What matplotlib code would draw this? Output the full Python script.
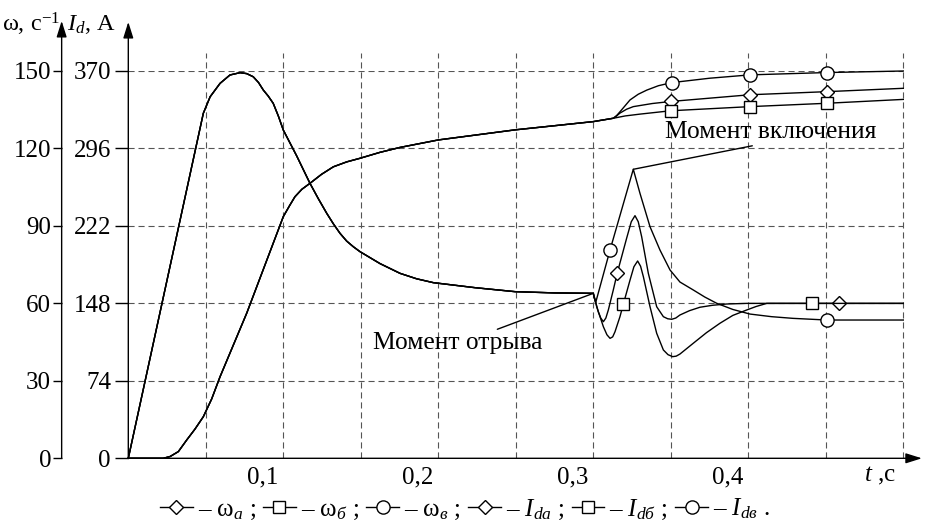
import numpy as np
import matplotlib.pyplot as plt
from matplotlib.transforms import ScaledTranslation

plt.rcParams['font.family'] = ['Liberation Serif', 'DejaVu Serif']
plt.rcParams['mathtext.fontset'] = 'custom'
plt.rcParams['mathtext.rm'] = 'Liberation Serif'
plt.rcParams['mathtext.it'] = 'Liberation Serif:italic'
plt.rcParams['mathtext.bf'] = 'Liberation Serif:bold'

# скорость, общий участок до разделения кривых
t_w = [0, 0.0226, 0.0270, 0.0323, 0.0377, 0.0430, 0.0484, 0.0538, 0.0592, 0.0764,
       0.1, 0.1040, 0.1075, 0.1120, 0.1172, 0.1247, 0.1323, 0.1409, 0.1495, 0.1624,
       0.1753, 0.2, 0.2495, 0.3, 0.3129]
w = [0, 0, 0.7, 2.6, 7.1, 11.3, 16.1, 23.0, 31.6, 56.2,
     93.6, 97.8, 101.3, 104.2, 106.5, 110.0, 112.9, 114.8, 116.2, 118.5,
     120.4, 123.3, 127.2, 130.4, 131.7]

# скорость после включения
t_wa = [0.3150, 0.3172, 0.3215, 0.3258, 0.3380, 0.3499, 0.4011, 0.4506, 0.5]
w_a = [132.6, 133.7, 135.2, 136.2, 137.4, 138.2, 140.8, 142.0, 143.3]
t_wb = [0.3206, 0.3301, 0.3499, 0.4011, 0.4506, 0.5]
w_b = [132.6, 133.3, 134.6, 136.2, 137.5, 139.0]
t_wv = [0.3150, 0.3172, 0.3237, 0.3290, 0.3345, 0.3420, 0.3506, 0.3750, 0.4011, 0.4506, 0.5]
w_v = [132.7, 134.2, 138.8, 141.0, 142.6, 144.3, 145.5, 147.2, 148.5, 149.4, 150.0]

# ток, общий участок до отрыва
t_i = [0, 0.0484, 0.0528, 0.0592, 0.0656, 0.0721, 0.0764, 0.0806, 0.0840, 0.0871,
       0.0903, 0.0935, 0.0968, 0.1, 0.1086, 0.1172, 0.1226, 0.1280, 0.1323, 0.1366,
       0.1409, 0.1452, 0.1495, 0.1624, 0.1753, 0.1860, 0.1968, 0.2237, 0.2495, 0.2750,
       0.3]
i_d = [0, 329.6, 345.4, 358.2, 366.2, 368.4, 367.5, 364.5, 359.0, 351.8,
       346.0, 339.1, 327.0, 313.6, 289.0, 262.7, 248.0, 234.1, 224.0, 214.9,
       207.5, 202.1, 197.4, 186.0, 176.7, 171.5, 167.8, 163.0, 159.2, 158.0,
       157.6]

# ток после отрыва
t_ia = [0.3032, 0.3048, 0.3065, 0.3081, 0.3097, 0.3129, 0.3155, 0.3215, 0.3245,
        0.3269, 0.3290, 0.3312, 0.3355, 0.3409, 0.3452, 0.3480, 0.3506, 0.3532,
        0.3559, 0.3620, 0.3688, 0.3770, 0.3860, 0.3990, 0.4587, 0.5]
i_a = [140.0, 134.0, 130.5, 134.0, 141.7, 160.8, 177.3, 210.2, 226.0,
       231.8, 226.0, 211.7, 176.7, 144.8, 135.3, 133.3, 132.8, 134.0,
       136.9, 141.0, 144.3, 146.2, 147.4, 148.0, 148.0, 148.0]
t_ib = [0.3022, 0.3065, 0.3088, 0.3108, 0.3125, 0.3140, 0.3172, 0.3194, 0.3237,
        0.3262, 0.3286, 0.3305, 0.3323, 0.3366, 0.3409, 0.3452, 0.3482, 0.3512,
        0.3535, 0.3559, 0.3645, 0.3730, 0.3817, 0.3900, 0.3990, 0.4050, 0.4119,
        0.4409, 0.5]
i_b = [144.8, 125.7, 118.0, 114.6, 116.0, 120.9, 135.3, 147.4, 170.3,
       183.0, 188.5, 183.5, 173.5, 144.8, 119.4, 103.5, 99.0, 97.1,
       97.6, 99.6, 109.9, 120.0, 129.0, 136.5, 141.7, 145.0, 148.0,
       148.0, 148.0]
t_iv = [0.3015, 0.3108, 0.3258, 0.3301, 0.3366, 0.3430, 0.3495, 0.3559, 0.3645,
        0.3720, 0.3796, 0.3900, 0.4011, 0.4150, 0.4288, 0.4506, 0.5]
i_v = [148.6, 199.0, 276.1, 253.2, 221.2, 199.0, 179.9, 168.4, 160.8,
       154.0, 148.1, 142.2, 137.8, 135.3, 133.7, 132.1, 132.1]

# где стоят маркеры
mark_w = [0.35, 0.401, 0.4506]
mark_ia = [0.3155, 0.4587]
mark_ib = [0.3194, 0.4409]
mark_iv = [0.3108, 0.4506]

w_ticks = [0, 30, 60, 90, 120, 150]
i_ticks = [0, 74, 148, 222, 296, 370]
t_ticks = [0.1, 0.2, 0.3, 0.4]
t_labels = ['0,1', '0,2', '0,3', '0,4']

FS = 18


def series(t0, y0, t1, y1):
    return np.array(t0 + t1), np.array(y0 + y1)


def marks(tt, times):
    return [int(np.argmin(np.abs(tt - m))) for m in times]


fig = plt.figure(figsize=(9.25, 5.27), dpi=100)
ax = fig.add_axes([128.3 / 925, 68.7 / 527, 775 / 925, 387.3 / 527])
ax.set_xlim(0, 0.5)
ax.set_ylim(0, 150)
axi = ax.twinx()
axi.set_ylim(0, 370)
for a in (ax, axi):
    for s in a.spines.values():
        s.set_visible(False)

# сетка
grid = dict(colors='#555555', linewidth=0.8, linestyles=(0, (5.5, 3.5)))
ax.hlines(w_ticks[1:], 0, 0.5, **grid)
ax.vlines(np.arange(1, 11) * 0.05, 0, 157, clip_on=False, **grid)

# оси со стрелками
arrow = dict(arrowstyle='-|>,head_length=0.7,head_width=0.22', mutation_scale=14,
             color='black', lw=1.0, shrinkA=0, shrinkB=0)
ax.annotate('', xy=(-0.043, 169.4), xytext=(-0.043, 0), arrowprops=arrow, annotation_clip=False)
ax.annotate('', xy=(0, 169.0), xytext=(0, 0), arrowprops=arrow, annotation_clip=False)
ax.annotate('', xy=(0.512, 0), xytext=(0, 0), arrowprops=arrow, annotation_clip=False)

ax.spines['left'].set_position(('outward', 48))
ax.set_yticks(w_ticks)
ax.tick_params(axis='y', length=6.5, width=1, pad=1, labelsize=FS)
axi.yaxis.tick_left()
axi.set_yticks(i_ticks)
axi.tick_params(axis='y', length=9.5, width=1, pad=3, labelsize=FS)

ax.set_xticks(t_ticks, t_labels)
ax.tick_params(axis='x', length=0, pad=6, labelsize=FS)
for lab in ax.get_xticklabels():
    lab.set_transform(lab.get_transform() + ScaledTranslation(-0.21, 0, fig.dpi_scale_trans))

# кривые
base = dict(color='black', lw=1.0, markerfacecolor='white', markeredgecolor='black',
            markeredgewidth=1.0)
D = dict(marker='D', markersize=7.5)
S = dict(marker='s', markersize=8.5)
O = dict(marker='o', markersize=9.5)

handles = []
for tb, yb, mk in [(t_wa, w_a, D), (t_wb, w_b, S), (t_wv, w_v, O)]:
    tt, yy = series(t_w, w, tb, yb)
    ln, = ax.plot(tt, yy, markevery=marks(tt, mark_w), clip_on=False, **base, **mk)
    handles.append(ln)
for tb, yb, mk, mt in [(t_ia, i_a, D, mark_ia), (t_ib, i_b, S, mark_ib), (t_iv, i_v, O, mark_iv)]:
    tt, yy = series(t_i, i_d, tb, yb)
    ln, = axi.plot(tt, yy, markevery=marks(tt, mt), clip_on=False, **base, **mk)
    handles.append(ln)

# подписи
k = int(np.argmax(i_v))
axi.annotate('Момент включения', xy=(t_iv[k], i_v[k]), xytext=(0.3462, 311.7),
             ha='left', va='center', fontsize=18.4,
             arrowprops=dict(arrowstyle='-', color='black', lw=1.0, shrinkA=0, shrinkB=0,
                             relpos=(0.48, 0.0)))
axi.annotate('Момент отрыва', xy=(t_i[-1], i_d[-1]), xytext=(0.1579, 110.1),
             ha='left', va='center', fontsize=18.4,
             arrowprops=dict(arrowstyle='-', color='black', lw=1.0, shrinkA=0, shrinkB=0,
                             relpos=(0.69, 1.0)))

fig.text(2 / 925, 1 - 24 / 527, 'ω, с$^{-1}$', fontsize=17.5, va='center', ha='left')
fig.text(67 / 925, 1 - 24 / 527, '$I_d$, А', fontsize=17.5, va='center', ha='left')
fig.text(864 / 925, 1 - 476 / 527, '$t$ ,с', fontsize=FS, va='center', ha='left')

labels = ['– ω$_{а}$ ;', '– ω$_{б}$ ;', '– ω$_{в}$ ;',
          '– $I_{dа}$ ;', '– $I_{dб}$ ;', '– $I_{dв}$ .']
fig.legend(handles, labels, ncol=6, loc='center left', bbox_to_anchor=(160 / 925, 1 - 509 / 527),
           frameon=False, fontsize=FS, handlelength=1.3, handletextpad=0.2,
           columnspacing=0.3, borderpad=0, borderaxespad=0)

fig.savefig('out.png', dpi=100)
